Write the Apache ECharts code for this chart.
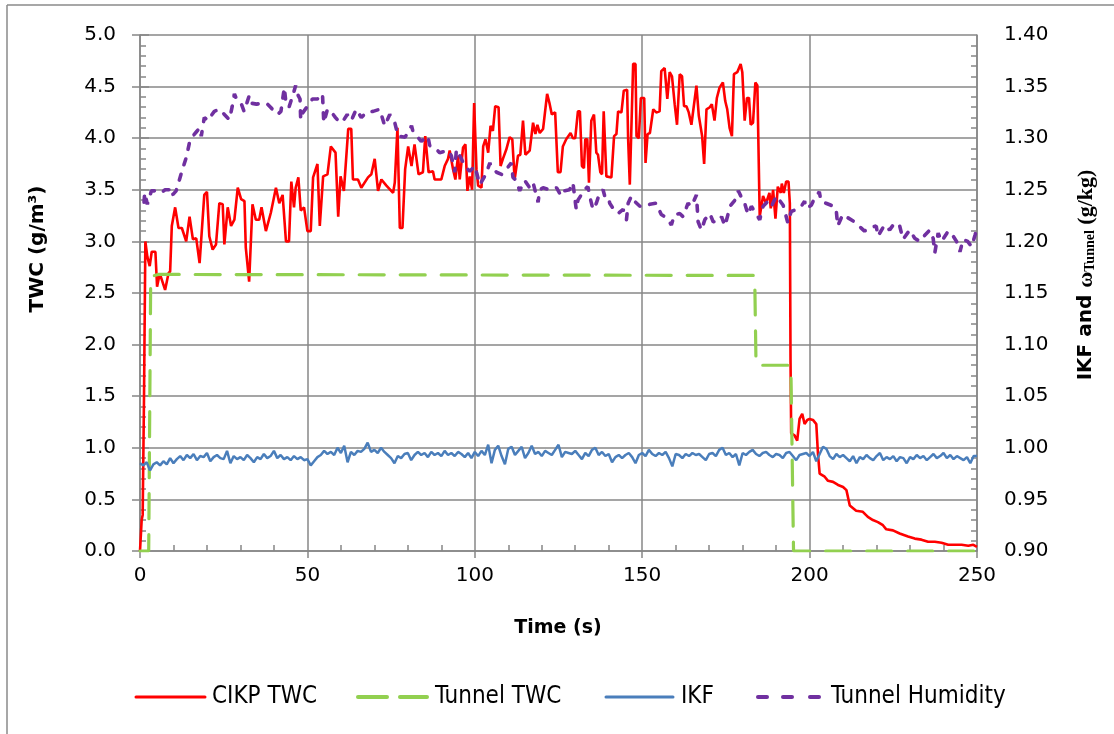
<!DOCTYPE html>
<html>
<head>
<meta charset="utf-8">
<script src="https://cdn.jsdelivr.net/npm/echarts@6/dist/echarts.min.js"></script>
<style>
html,body{margin:0;padding:0;background:#fff;}
#chart{width:1114px;height:734px;}
</style>
</head>
<body>
<div id="chart"></div>
<script>
// ---- Data ----
const seriesNames = ['CIKP TWC', 'Tunnel TWC', 'IKF', 'Tunnel Humidity'];
const seriesColors = ['#FF0000', '#92D050', '#4A7EBB', '#7030A0'];

// CIKP TWC (g/m3) : [time s, value]
const cikpTwc = [[0,0],[0.5,0.3],[0.8,0.35],[1.2,1.5],[1.6,3.0],[2.2,2.85],[2.9,2.76],[3.5,2.9],[4.6,2.9],[5.1,2.56],[5.9,2.69],[6.5,2.63],[7.5,2.53],[8.5,2.69],[9.0,2.71],[9.5,3.15],[10.5,3.33],[11.5,3.13],[12.5,3.13],[13.8,3.0],[14.8,3.24],[15.8,3.02],[16.8,3.03],[17.8,2.79],[19.2,3.45],[20.0,3.48],[20.7,3.05],[21.7,2.92],[22.7,2.97],[23.7,3.37],[24.7,3.36],[25.2,2.97],[26.2,3.33],[27.2,3.15],[28.2,3.21],[29.2,3.52],[30.2,3.41],[31.2,3.39],[31.6,2.94],[32.6,2.61],[33.6,3.36],[34.6,3.21],[35.6,3.21],[36.3,3.33],[37.6,3.10],[39.1,3.28],[40.6,3.52],[41.6,3.37],[42.6,3.45],[43.6,3.0],[44.5,3.0],[45.2,3.58],[46.0,3.33],[46.5,3.52],[47.3,3.62],[48.0,3.30],[49.0,3.33],[50.0,3.10],[51.0,3.10],[51.7,3.62],[53.0,3.75],[53.7,3.15],[54.7,3.63],[56.0,3.65],[57.0,3.92],[58.4,3.86],[59.2,3.24],[59.9,3.63],[60.9,3.49],[62.2,4.09],[63.1,4.09],[63.6,3.60],[65.1,3.60],[66.1,3.52],[68.1,3.62],[69.1,3.65],[70.1,3.80],[71.1,3.49],[72.1,3.60],[73.6,3.54],[75.6,3.47],[76.1,3.57],[76.9,4.10],[77.6,3.13],[78.4,3.13],[79.2,3.70],[80.1,3.92],[81.1,3.73],[82.0,3.94],[83.2,3.65],[84.5,3.67],[85.2,4.02],[86.2,3.67],[87.5,3.68],[88.0,3.60],[90.0,3.60],[91.0,3.73],[92.0,3.80],[92.5,3.88],[93.5,3.70],[94.2,3.60],[95.0,3.83],[95.5,3.60],[96.5,3.91],[97.2,3.94],[97.8,3.49],[98.5,3.63],[99.2,3.50],[99.8,4.34],[100.5,3.70],[101.0,3.54],[102.0,3.52],[102.5,3.92],[103.2,3.99],[104.0,3.86],[104.7,4.12],[105.4,4.07],[106.1,4.31],[107.1,4.30],[107.7,3.73],[108.4,3.80],[109.4,3.89],[110.4,4.01],[111.2,3.99],[111.9,3.60],[112.9,3.83],[113.6,3.84],[114.4,4.17],[115.1,3.84],[116.4,3.88],[117.4,4.15],[118.1,4.04],[118.7,4.13],[119.4,4.05],[120.4,4.09],[121.6,4.43],[122.3,4.34],[123.0,4.23],[124.0,4.25],[124.8,3.67],[125.6,3.67],[126.3,3.92],[127.3,3.99],[128.6,4.05],[129.3,4.0],[130.0,4.0],[130.8,4.26],[131.4,4.26],[132.0,3.73],[132.6,3.71],[133.0,3.99],[133.6,3.99],[134.1,3.57],[134.8,4.17],[135.6,4.23],[136.3,3.86],[136.8,3.84],[137.5,3.67],[138.0,3.65],[138.5,4.26],[139.3,3.63],[140.8,3.62],[141.6,4.02],[142.3,4.04],[142.8,4.26],[143.8,4.25],[144.5,4.46],[145.5,4.47],[145.8,3.99],[146.3,3.55],[146.8,3.55],[147.3,4.72],[148.0,4.72],[148.3,4.02],[149.0,4.0],[149.6,4.39],[150.6,4.39],[151.0,3.76],[151.6,4.04],[152.3,4.05],[153.3,4.28],[154.2,4.25],[155.2,4.26],[155.7,4.65],[156.7,4.68],[157.5,4.38],[158.2,4.64],[158.9,4.60],[159.7,4.33],[160.4,4.13],[161.2,4.62],[161.9,4.60],[162.5,4.31],[163.2,4.31],[163.9,4.25],[164.7,4.13],[165.2,4.13],[166.2,4.51],[166.9,4.22],[167.9,4.02],[168.5,3.75],[169.2,4.28],[170.2,4.30],[170.8,4.33],[171.6,4.17],[172.3,4.39],[173.1,4.49],[174.1,4.54],[174.8,4.36],[175.4,4.28],[176.1,4.10],[176.8,4.02],[177.4,4.62],[178.4,4.64],[179.4,4.72],[179.9,4.64],[180.6,4.17],[181.3,4.39],[181.9,4.39],[182.4,4.13],[183.1,4.15],[183.8,4.54],[184.4,4.51],[185.1,3.24],[186.1,3.44],[187.0,3.37],[188.0,3.47],[188.4,3.32],[189.1,3.50],[189.8,3.22],[190.5,3.53],[191.4,3.47],[191.7,3.56],[192.3,3.47],[193.0,3.58],[193.7,3.58],[194.1,3.37],[194.3,1.85],[194.5,1.14],[195.5,1.12],[196.3,1.07],[197.0,1.28],[197.8,1.33],[198.5,1.23],[199.3,1.27],[200.0,1.28],[201.0,1.27],[202.0,1.23],[202.5,0.94],[203.0,0.75],[204.5,0.72],[205.5,0.68],[207.0,0.67],[208.5,0.64],[210.0,0.62],[211.0,0.59],[212.0,0.44],[212.4,0.43],[213.9,0.39],[215.9,0.38],[217.4,0.33],[218.9,0.30],[220.4,0.28],[221.9,0.25],[222.9,0.21],[224.9,0.20],[226.9,0.17],[229.4,0.14],[231.4,0.12],[233.4,0.11],[235.4,0.09],[237.4,0.09],[239.4,0.08],[241.4,0.06],[243.4,0.06],[245.4,0.06],[247.4,0.05],[248.9,0.06],[250,0.04]];

// Tunnel TWC (g/m3) : [time s, value]
const tunnelTwc = [[0,0],[2.6,0],[3.2,2.66],[5.5,2.68],[183.6,2.67],[184.0,1.80],[194.4,1.80],[195.2,0],[250,0]];

// IKF (right axis), one value per second from t = 0
const ikfValues = [
0.985,0.983,0.986,0.978,0.984,0.986,0.983,0.987,0.984,0.990,
0.985,0.989,0.992,0.988,0.993,0.990,0.994,0.988,0.992,0.991,
0.995,0.987,0.991,0.993,0.990,0.989,0.997,0.985,0.992,0.989,
0.991,0.988,0.993,0.990,0.986,0.991,0.989,0.994,0.990,0.992,
0.997,0.990,0.993,0.989,0.991,0.988,0.992,0.989,0.991,0.988,
0.989,0.983,0.987,0.991,0.993,0.997,0.994,0.996,0.993,1.000,
0.995,1.002,0.986,0.996,0.993,0.997,0.996,0.999,1.005,0.996,
0.998,0.995,1.000,0.996,0.993,0.990,0.985,0.992,0.990,0.994,
0.995,0.988,0.993,0.996,0.993,0.995,0.991,0.996,0.993,0.995,
0.992,0.997,0.993,0.995,0.992,0.996,0.994,0.991,0.995,0.990,
0.996,0.992,0.997,0.993,1.003,0.985,0.998,1.002,0.992,0.984,
0.999,1.001,0.993,0.997,1.001,0.990,0.995,1.002,0.994,0.996,
0.992,0.997,0.995,0.993,0.998,1.003,0.991,0.996,0.995,0.994,
0.997,0.993,0.989,0.995,0.992,0.998,1.000,0.993,0.996,0.992,
0.994,0.986,0.991,0.993,0.990,0.993,0.995,0.991,0.985,0.993,
0.995,0.992,0.998,0.994,0.992,0.995,0.993,0.996,0.990,0.982,
0.994,0.993,0.990,0.994,0.992,0.995,0.993,0.994,0.991,0.988,
0.994,0.995,0.992,0.998,1.000,0.993,0.995,0.991,0.994,0.983,
0.995,0.993,0.996,0.998,0.994,0.992,0.995,0.996,0.993,0.991,
0.994,0.993,0.990,0.995,0.996,0.992,0.988,0.993,0.994,0.995,
0.992,0.996,0.987,0.994,1.001,0.999,0.992,0.989,0.994,0.991,
0.993,0.990,0.987,0.992,0.985,0.991,0.989,0.993,0.990,0.988,
0.992,0.995,0.988,0.991,0.989,0.992,0.987,0.991,0.990,0.985,
0.991,0.989,0.993,0.990,0.992,0.988,0.991,0.994,0.990,0.992,
0.995,0.990,0.993,0.989,0.992,0.990,0.988,0.991,0.985,0.992,
0.992];

// Tunnel Humidity (g/kg, right axis) : [time s, value]
const tunnelHumidity = [[1.2,1.238],[1.4,1.247],[2.2,1.236],[3.4,1.249],[4.9,1.249],[6.3,1.247],[7.5,1.250],[8.8,1.250],[9.0,1.244],[10.0,1.246],[10.8,1.249],[11.8,1.260],[12.8,1.271],[13.8,1.281],[14.8,1.296],[15.8,1.302],[16.8,1.306],[17.8,1.310],[18.3,1.302],[19.2,1.320],[20.4,1.317],[21.3,1.322],[22.2,1.326],[23.7,1.328],[25.2,1.323],[26.7,1.318],[27.5,1.330],[28.2,1.343],[28.7,1.339],[29.6,1.337],[30.4,1.332],[31.1,1.326],[32.0,1.335],[32.6,1.341],[33.1,1.334],[34.8,1.333],[36.6,1.334],[38.1,1.333],[39.0,1.330],[40.1,1.326],[41.1,1.323],[42.1,1.326],[43.1,1.349],[43.6,1.334],[44.5,1.330],[45.5,1.340],[46.5,1.351],[47.0,1.343],[47.8,1.338],[48.0,1.318],[48.7,1.325],[49.8,1.330],[50.8,1.334],[51.5,1.338],[53.0,1.338],[54.5,1.343],[54.9,1.315],[56.0,1.328],[57.0,1.326],[58.4,1.320],[59.7,1.315],[60.9,1.318],[61.9,1.323],[63.1,1.317],[64.6,1.328],[66.1,1.320],[67.6,1.325],[69.6,1.326],[71.6,1.328],[73.1,1.312],[74.6,1.323],[76.1,1.315],[77.1,1.302],[79.2,1.301],[81.1,1.312],[81.5,1.307],[83.0,1.301],[84.0,1.297],[86.0,1.302],[86.5,1.293],[88.0,1.291],[89.5,1.286],[92.0,1.288],[93.0,1.283],[94.0,1.267],[94.5,1.289],[96.0,1.280],[97.0,1.273],[98.5,1.268],[100.0,1.273],[101.5,1.255],[102.0,1.254],[103.3,1.265],[104.5,1.276],[105.0,1.272],[106.5,1.267],[108.0,1.265],[109.4,1.270],[110.9,1.276],[111.4,1.262],[112.4,1.259],[113.4,1.249],[114.9,1.259],[116.4,1.252],[117.4,1.257],[118.9,1.238],[119.4,1.250],[120.4,1.252],[122.4,1.250],[124.4,1.252],[125.8,1.244],[126.8,1.249],[128.3,1.250],[129.3,1.257],[130.3,1.231],[130.8,1.240],[131.8,1.245],[132.3,1.249],[133.8,1.253],[134.3,1.244],[135.3,1.231],[136.3,1.237],[137.3,1.247],[138.3,1.250],[138.8,1.244],[139.8,1.244],[140.3,1.237],[141.3,1.232],[142.8,1.227],[144.3,1.231],[145.3,1.221],[145.8,1.237],[146.8,1.244],[148.0,1.238],[149.3,1.234],[150.8,1.234],[152.3,1.236],[154.2,1.237],[155.7,1.226],[157.2,1.223],[158.7,1.216],[159.7,1.226],[161.2,1.227],[162.2,1.224],[163.7,1.237],[164.7,1.234],[166.2,1.245],[166.7,1.219],[167.7,1.211],[168.7,1.221],[170.2,1.227],[171.2,1.219],[172.7,1.219],[173.7,1.224],[174.7,1.215],[175.7,1.227],[176.2,1.234],[177.7,1.240],[178.7,1.249],[179.6,1.243],[180.6,1.237],[181.6,1.226],[182.6,1.234],[183.6,1.229],[185.1,1.221],[186.1,1.234],[187.6,1.239],[188.6,1.234],[190.1,1.244],[192.1,1.235],[193.5,1.218],[194.5,1.229],[196.0,1.231],[197.5,1.234],[198.5,1.239],[199.0,1.232],[200.5,1.235],[201.5,1.242],[202.9,1.248],[203.4,1.239],[204.9,1.237],[206.4,1.235],[207.9,1.232],[208.4,1.215],[209.9,1.226],[211.4,1.223],[213.4,1.219],[214.4,1.216],[216.4,1.210],[217.9,1.213],[219.9,1.215],[220.4,1.205],[222.4,1.216],[223.9,1.211],[225.4,1.218],[226.9,1.215],[227.9,1.202],[229.9,1.211],[231.4,1.203],[232.9,1.200],[234.4,1.206],[235.9,1.211],[236.9,1.203],[237.4,1.189],[238.4,1.208],[239.4,1.200],[241.4,1.210],[242.9,1.205],[243.9,1.200],[244.9,1.190],[245.9,1.202],[247.2,1.200],[248.4,1.195],[249.4,1.206],[250,1.213]];

// Axis settings
const xRange = [0, 250, 50];
const leftRange = [0, 5, 0.5];
const rightRange = [0.9, 1.4, 0.05];

// ---- Chart ----
const gridColor = '#878787';
const font = 'DejaVu Sans';
const ikfData = ikfValues.map((v, i) => [i, v]);

const chart = echarts.init(document.getElementById('chart'), null, {renderer: 'canvas'});

const hiddenAxisBase = {
  axisLine: {show: false},
  axisLabel: {show: false},
  splitLine: {show: false},
  minorTick: {show: false}
};

// Manual legend (line samples + labels), laid out like the reference
const legendY = 697;
const legendFont = '24px "DejaVu Sans Condensed"';
function legendSeg(x1, x2, color, width) {
  return {type: 'line', silent: true, shape: {x1: x1, y1: legendY, x2: x2, y2: legendY},
    style: {stroke: color, lineWidth: width, lineCap: 'round'}};
}
function legendText(x, txt) {
  return {type: 'text', silent: true, x: x, y: legendY,
    style: {text: txt, fill: '#000', font: legendFont, align: 'left', verticalAlign: 'middle'}};
}
const legendGraphics = [
  legendSeg(136, 205, seriesColors[0], 3),
  legendText(212, seriesNames[0]),
  legendSeg(358, 387, seriesColors[1], 4),
  legendSeg(400, 427, seriesColors[1], 4),
  legendText(435, seriesNames[1]),
  legendSeg(606, 673, seriesColors[2], 3),
  legendText(681, seriesNames[2]),
  legendSeg(758, 767, seriesColors[3], 4),
  legendSeg(783, 792, seriesColors[3], 4),
  legendSeg(810, 819, seriesColors[3], 4),
  legendText(831, seriesNames[3])
];

const option = {
  backgroundColor: '#ffffff',
  animation: false,
  grid: {left: 140, right: 137, top: 35, bottom: 183, containLabel: false},
  xAxis: [
    {
      type: 'value', min: xRange[0], max: xRange[1], interval: xRange[2], position: 'bottom',
      axisLine: {show: true, onZero: false, lineStyle: {color: gridColor, width: 1.5}},
      axisTick: {show: false, inside: true},
      minorTick: {show: true, splitNumber: 5, length: 6, lineStyle: {color: gridColor, width: 1.5}},
      axisLabel: {color: '#000', fontFamily: font, fontSize: 20, margin: 15},
      splitLine: {show: true, lineStyle: {color: gridColor, width: 1.5}}
    },
    Object.assign({
      type: 'value', min: xRange[0], max: xRange[1], interval: xRange[2], position: 'bottom',
      axisTick: {show: true, inside: false, length: 7, lineStyle: {color: gridColor, width: 1.5}}
    }, hiddenAxisBase)
  ],
  yAxis: [
    {
      type: 'value', min: leftRange[0], max: leftRange[1], interval: leftRange[2], position: 'left',
      axisLine: {show: true, onZero: false, lineStyle: {color: gridColor, width: 1.5}},
      axisTick: {show: false, inside: true},
      minorTick: {show: true, splitNumber: 5, length: 6, lineStyle: {color: gridColor, width: 1.5}},
      axisLabel: {color: '#000', fontFamily: font, fontSize: 20, margin: 24, formatter: v => v.toFixed(1)},
      splitLine: {show: true, lineStyle: {color: gridColor, width: 1.5}}
    },
    {
      type: 'value', min: rightRange[0], max: rightRange[1], interval: rightRange[2], position: 'right',
      axisLine: {show: true, onZero: false, lineStyle: {color: gridColor, width: 1.5}},
      axisTick: {show: false, inside: true},
      minorTick: {show: true, splitNumber: 5, length: 6, lineStyle: {color: gridColor, width: 1.5}},
      axisLabel: {color: '#000', fontFamily: font, fontSize: 20, margin: 27, formatter: v => v.toFixed(2)},
      splitLine: {show: false}
    },
    Object.assign({
      type: 'value', min: leftRange[0], max: leftRange[1], interval: leftRange[2], position: 'left',
      axisTick: {show: true, inside: false, length: 8, lineStyle: {color: gridColor, width: 1.5}}
    }, hiddenAxisBase),
    Object.assign({
      type: 'value', min: rightRange[0], max: rightRange[1], interval: rightRange[2], position: 'right',
      axisTick: {show: true, inside: false, length: 9, lineStyle: {color: gridColor, width: 1.5}}
    }, hiddenAxisBase)
  ],
  legend: {show: false, data: seriesNames},
  series: [
    {
      name: seriesNames[0], type: 'line', xAxisIndex: 0, yAxisIndex: 0,
      symbol: 'none', showSymbol: false,
      lineStyle: {color: seriesColors[0], width: 2.6},
      itemStyle: {color: seriesColors[0]},
      data: cikpTwc, z: 3
    },
    {
      name: seriesNames[1], type: 'line', xAxisIndex: 0, yAxisIndex: 0,
      symbol: 'none', showSymbol: false,
      lineStyle: {color: seriesColors[1], width: 3.2, type: [25, 16], cap: 'round'},
      itemStyle: {color: seriesColors[1]},
      data: tunnelTwc, z: 4
    },
    {
      name: seriesNames[2], type: 'line', xAxisIndex: 0, yAxisIndex: 1,
      symbol: 'none', showSymbol: false,
      lineStyle: {color: seriesColors[2], width: 2.5},
      itemStyle: {color: seriesColors[2]},
      data: ikfData, z: 5
    },
    {
      name: seriesNames[3], type: 'line', xAxisIndex: 0, yAxisIndex: 1,
      symbol: 'none', showSymbol: false,
      lineStyle: {color: seriesColors[3], width: 3.6, type: [6, 10], cap: 'round'},
      itemStyle: {color: seriesColors[3]},
      data: tunnelHumidity, z: 6
    }
  ],
  graphic: [
    {type: 'line', shape: {x1: 7, y1: 5, x2: 7, y2: 734}, style: {stroke: '#8a8a8a', lineWidth: 1.5}, silent: true},
    {type: 'line', shape: {x1: 7, y1: 5, x2: 1114, y2: 5}, style: {stroke: '#8a8a8a', lineWidth: 1.5}, silent: true},
    {
      type: 'text', x: 558, y: 628, silent: true,
      style: {text: 'Time (s)', fill: '#000', font: 'bold 19px "DejaVu Sans"', align: 'center', verticalAlign: 'middle'}
    },
    {
      type: 'text', x: 38, y: 249, rotation: Math.PI / 2, silent: true,
      style: {text: 'TWC (g/m³)', fill: '#000', font: 'bold 20px "DejaVu Sans"', align: 'center', verticalAlign: 'middle'}
    },
    {
      type: 'text', x: 1086, y: 275, rotation: Math.PI / 2, silent: true,
      style: {
        text: '{a|IKF and }{w|ω}{s|Tunnel}{w| (g/kg)}',
        fill: '#000', align: 'center', verticalAlign: 'middle',
        rich: {
          a: {font: 'bold 20px "DejaVu Sans"', fill: '#000', lineHeight: 30, verticalAlign: 'middle'},
          w: {font: 'bold 22px "Liberation Serif"', fill: '#000', lineHeight: 30, verticalAlign: 'middle'},
          s: {font: 'bold 14px "Liberation Serif"', fill: '#000', lineHeight: 30, verticalAlign: 'bottom', padding: [0, 0, 4, 0]}
        }
      }
    }
  ].concat(legendGraphics)
};

chart.setOption(option);
</script>
</body>
</html>
